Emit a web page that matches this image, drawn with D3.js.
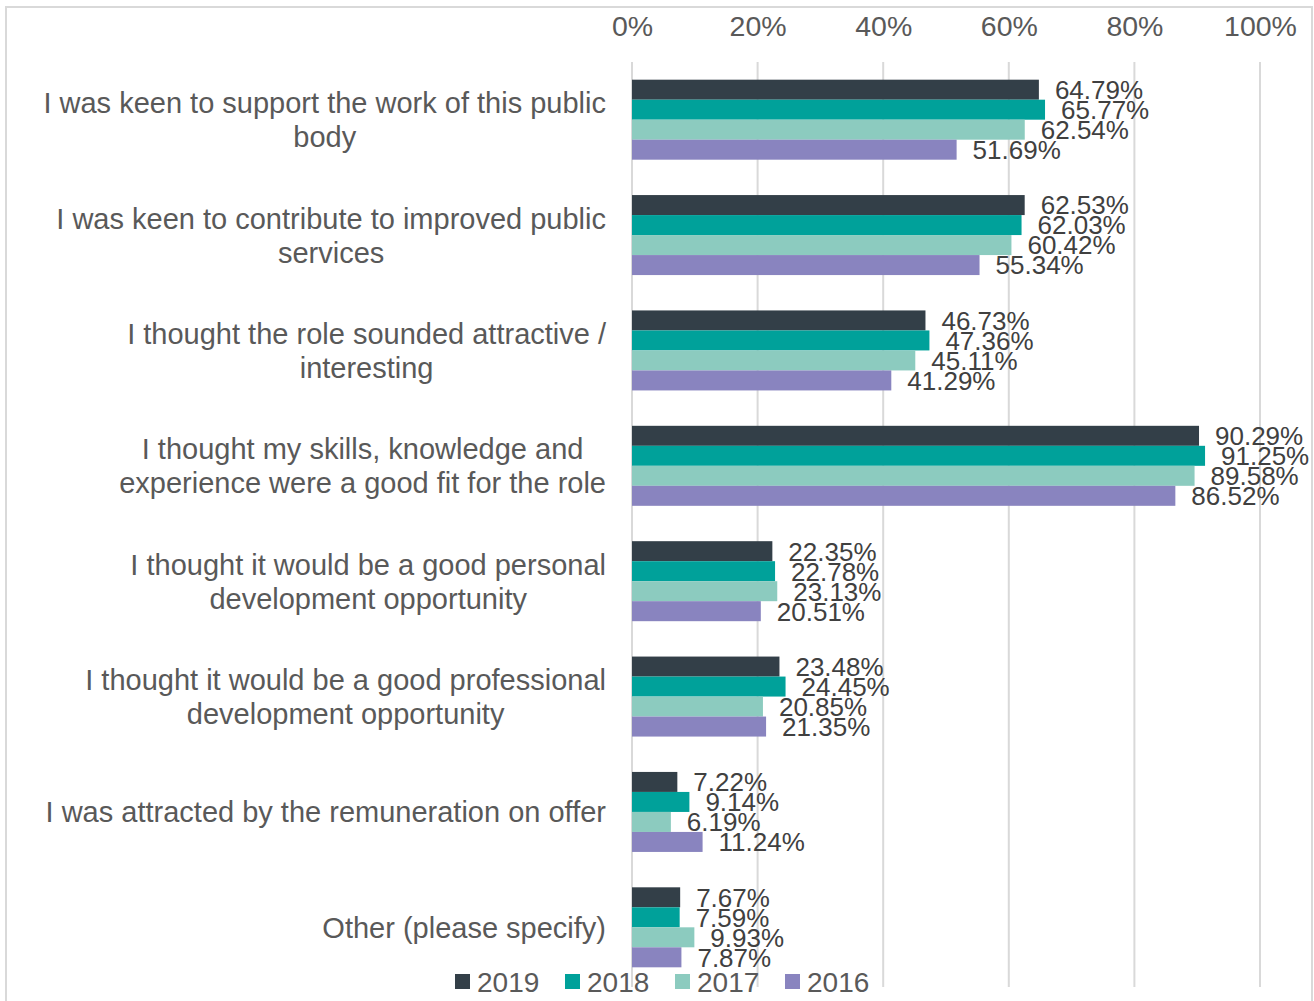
<!DOCTYPE html>
<html>
<head>
<meta charset="utf-8">
<script src="https://cdn.jsdelivr.net/npm/d3@7"></script>
<style>
  body { margin: 0; background: #fff; }
  svg { display: block; font-family: "Liberation Sans", Arial, sans-serif; }
</style>
</head>
<body>
<div id="chart"></div>
<script>
const categories = [
  ["I was keen to support the work of this public", "body"],
  ["I was keen to contribute to improved public", "services"],
  ["I thought the role sounded attractive /", "interesting"],
  ["I thought my skills, knowledge and", "experience were a good fit for the role"],
  ["I thought it would be a good personal", "development opportunity"],
  ["I thought it would be a good professional", "development opportunity"],
  ["I was attracted by the remuneration on offer"],
  ["Other (please specify)"]
]
const years = ["2019", "2018", "2017", "2016"]
const values2019 = [64.79, 62.53, 46.73, 90.29, 22.35, 23.48, 7.22, 7.67]
const values2018 = [65.77, 62.03, 47.36, 91.25, 22.78, 24.45, 9.14, 7.59]
const values2017 = [62.54, 60.42, 45.11, 89.58, 23.13, 20.85, 6.19, 9.93]
const values2016 = [51.69, 55.34, 41.29, 86.52, 20.51, 21.35, 11.24, 7.87]
const xTicks = [0, 20, 40, 60, 80, 100]

const seriesValues = [values2019, values2018, values2017, values2016]
const colors = ["#333f48", "#00a19a", "#8ccbbf", "#8984bf"]

const W = 1314, H = 1001
const svg = d3.select("#chart").append("svg").attr("width", W).attr("height", H)

svg.append("rect")
  .attr("x", 6).attr("y", 7).attr("width", 1306).attr("height", 1010)
  .attr("fill", "#fff").attr("stroke", "#d9d9d9").attr("stroke-width", 2)

const x = d3.scaleLinear().domain([0, 100]).range([632, 1260])
const y = d3.scaleBand().domain(d3.range(categories.length)).range([62, 985])
const inner = d3.scaleBand().domain(years).range([0, 80])
const groupOffset = (y.bandwidth() - 80) / 2

// gridlines
svg.append("g")
  .selectAll("line")
  .data(xTicks)
  .join("line")
  .attr("x1", d => x(d)).attr("x2", d => x(d))
  .attr("y1", 62).attr("y2", 987)
  .attr("stroke", "#d9d9d9").attr("stroke-width", 2)

// top axis labels
const axis = svg.append("g")
  .attr("transform", "translate(0,36)")
  .call(d3.axisTop(x).tickValues(xTicks).tickFormat(d => d + "%").tickSize(0).tickPadding(0))
axis.select(".domain").remove()
axis.selectAll("text")
  .attr("font-family", "Liberation Sans, Arial, sans-serif")
  .attr("font-size", 28.5).attr("fill", "#595959")
  .attr("dy", 0)

// bars
const groups = svg.append("g")
  .selectAll("g")
  .data(categories.map((c, i) => i))
  .join("g")
  .attr("transform", i => `translate(0,${y(i) + groupOffset})`)

groups.selectAll("rect")
  .data(i => years.map((yr, s) => ({ yr, s, v: seriesValues[s][i] })))
  .join("rect")
  .attr("x", x(0))
  .attr("y", d => inner(d.yr))
  .attr("width", d => x(d.v) - x(0))
  .attr("height", inner.bandwidth())
  .attr("fill", d => colors[d.s])

groups.selectAll("text")
  .data(i => years.map((yr, s) => ({ yr, s, v: seriesValues[s][i] })))
  .join("text")
  .attr("x", d => x(d.v) + 16)
  .attr("y", d => inner(d.yr) + inner.bandwidth() / 2)
  .attr("dy", "0.36em")
  .attr("font-size", 26)
  .attr("fill", "#404040")
  .text(d => d.v.toFixed(2) + "%")

// category labels, centred as a block whose right edge is at 606
const labels = svg.append("g")
  .selectAll("text")
  .data(categories)
  .join("text")
  .attr("font-size", 29)
  .attr("fill", "#595959")
  .attr("text-anchor", "middle")

labels.each(function (lines, i) {
  const t = d3.select(this)
  const cy = y(i) + y.bandwidth() / 2
  const lh = 34
  lines.forEach((ln, k) => {
    t.append("tspan")
      .attr("y", cy + (k - (lines.length - 1) / 2) * lh)
      .attr("dy", "0.36em")
      .text(ln)
  })
  let maxW = 0
  t.selectAll("tspan").each(function () { maxW = Math.max(maxW, this.getComputedTextLength()) })
  t.selectAll("tspan").attr("x", 606 - maxW / 2)
})

// legend
const legend = svg.append("g")
  .selectAll("g")
  .data(years)
  .join("g")
  .attr("transform", (d, i) => `translate(${455 + i * 110},974)`)
legend.append("rect")
  .attr("width", 15).attr("height", 15)
  .attr("fill", (d, i) => colors[i])
legend.append("text")
  .attr("x", 22).attr("y", 7.5).attr("dy", "0.36em")
  .attr("font-size", 28).attr("fill", "#595959")
  .text(d => d)
</script>
</body>
</html>
